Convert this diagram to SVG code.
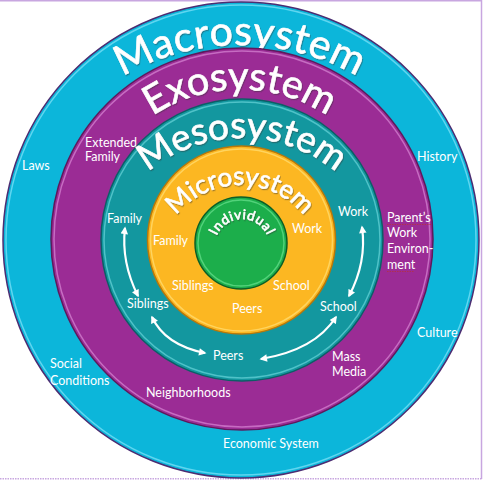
<svg xmlns="http://www.w3.org/2000/svg" width="485" height="480" viewBox="0 0 485 480">
<style>
.lbl{font-family:Lato,"Open Sans","Liberation Sans",sans-serif;font-size:12.5px;fill:#ffffff}
.hd{font-family:Lato,"Open Sans","Liberation Sans",sans-serif;fill:#ffffff;stroke:#ffffff;stroke-width:0.6;filter:url(#sh)}
.arr{fill:none;stroke:#ffffff;stroke-width:2.2;marker-start:url(#ah);marker-end:url(#ah)}
.hl{fill:none;stroke-width:1.5}
.sq{fill:none;stroke:#b03050;stroke-width:1;stroke-dasharray:1.5 1}
</style>
<defs>
<filter id="sh" x="-10%" y="-10%" width="120%" height="130%">
<feDropShadow dx="0.8" dy="1.2" stdDeviation="0.7" flood-color="#333" flood-opacity="0.45"/>
</filter>
<marker id="ah" viewBox="0 0 10 10" refX="8" refY="5" markerUnits="userSpaceOnUse" markerWidth="8.5" markerHeight="7.5" orient="auto-start-reverse">
<path d="M0,0 L10,5 L0,10 z" fill="#ffffff"/>
</marker>
<path id="macroArc" d="M6,279 A234,234 0 0 1 474,279"/>
<path id="exoArc" d="M82,247.5 A158,158 0 0 1 398,247.5"/>
<path id="mesoArc" d="M96.5,283.5 A145.5,145.5 0 0 1 387.5,283.5"/>
<path id="microArc" d="M158,267 A82,82 0 0 1 322,267"/>
<path id="indArc" d="M214.5,246.5 A27.5,27.5 0 0 1 269.5,246.5"/>
</defs>

<g id="frame" fill="none" stroke="#c8a6e0" stroke-width="1.5">
<line x1="0" y1="0.8" x2="482" y2="0.8"/>
<line x1="481.5" y1="0" x2="481.5" y2="479"/>
<line x1="0" y1="478.8" x2="482" y2="478.8" stroke-dasharray="1.5 1"/>
</g>

<g id="macrosystem">
<circle cx="241" cy="240" r="238" fill="#0cb6da" stroke="#4c2d72" stroke-width="1.5"/>
<circle cx="241" cy="240" r="235" class="hl" stroke="#5fd6f0"/>
<text class="hd" font-size="41" letter-spacing="0.5"><textPath href="#macroArc" startOffset="50%" text-anchor="middle">Macrosystem</textPath></text>
<text class="lbl" x="22" y="169.5">Laws</text>
<text class="lbl" x="417" y="161">History</text>
<text class="lbl" x="417" y="337">Culture</text>
<text class="lbl"><tspan x="50" y="368">Social</tspan><tspan x="50" y="384.5">Conditions</tspan></text>
<text class="lbl" x="223" y="448">Economic System</text>
</g>

<g id="exosystem">
<circle cx="242" cy="239" r="191" fill="#9b2c95" stroke="#5e1a5c" stroke-width="1.5"/>
<circle cx="242" cy="239" r="188" class="hl" stroke="#c66cc2"/>
<text class="hd" font-size="39.5"><textPath href="#exoArc" startOffset="50%" text-anchor="middle">Exosystem</textPath></text>
<text class="lbl"><tspan x="85" y="146.5">Extended</tspan><tspan x="85" y="160.5">Family</tspan></text>
<text class="lbl"><tspan x="387" y="221.5">Parent’s</tspan><tspan x="387" y="237">Work</tspan><tspan x="387" y="253">Environ-</tspan><tspan x="387" y="268.5">ment</tspan></text>
<line class="sq" x1="387" y1="224.5" x2="432" y2="224.5"/>
<line class="sq" x1="387" y1="271.5" x2="414" y2="271.5"/>
<text class="lbl"><tspan x="332" y="360.5">Mass</tspan><tspan x="332" y="376">Media</tspan></text>
<text class="lbl" x="146" y="397">Neighborhoods</text>
</g>

<g id="mesosystem">
<circle cx="242" cy="240" r="141" fill="#13979f" stroke="#0b5f66" stroke-width="1.5"/>
<circle cx="242" cy="240" r="138" class="hl" stroke="#4fc2c8"/>
<text class="hd" font-size="37"><textPath href="#mesoArc" startOffset="50%" text-anchor="middle">Mesosystem</textPath></text>
<text class="lbl" x="107" y="223">Family</text>
<text class="lbl" x="338" y="216">Work</text>
<text class="lbl" x="127" y="308">Siblings</text>
<text class="lbl" x="320" y="311">School</text>
<text class="lbl" x="213" y="360">Peers</text>
</g>

<g id="microsystem">
<circle cx="241.5" cy="240" r="94" fill="#fcb722" stroke="#b8780a" stroke-width="1.5"/>
<circle cx="241.5" cy="240" r="91" class="hl" stroke="#ffd45e"/>
<text class="hd" font-size="26"><textPath href="#microArc" startOffset="50%" text-anchor="middle">Microsystem</textPath></text>
<text class="lbl" x="153" y="245">Family</text>
<text class="lbl" x="292" y="233">Work</text>
<text class="lbl" x="172" y="289.5">Siblings</text>
<text class="lbl" x="273" y="290">School</text>
<text class="lbl" x="232" y="313">Peers</text>
</g>

<g id="individual">
<circle cx="241" cy="243" r="46" fill="#1cae4b" stroke="#0c5f27" stroke-width="1.5"/>
<circle cx="241" cy="243" r="43" class="hl" stroke="#52d27a"/>
<text class="hd" font-size="13.5" letter-spacing="0.7" stroke-width="0.2"><textPath href="#indArc" startOffset="50%" text-anchor="middle">Individual</textPath></text>
</g>

<g id="connectors">
<path class="arr" d="M125,228 Q121,262 138,296"/>
<path class="arr" d="M362,227 Q367,262 349,296"/>
<path class="arr" d="M152,317 Q165,345 205,353"/>
<path class="arr" d="M261,359 Q315,350 336,317"/>
</g>
</svg>
